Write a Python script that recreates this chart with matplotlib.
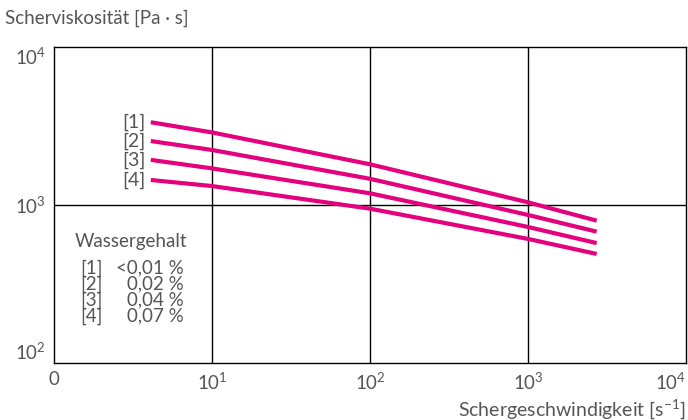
import matplotlib

matplotlib.use("Agg")
import matplotlib.pyplot as plt

# shear rate [1/s] and shear viscosity [Pa s]
shear_rate = [4.1, 10, 100, 1000, 2720]
visc_1 = [3340, 2880, 1810, 1040, 796]
visc_2 = [2540, 2230, 1465, 865, 678]
visc_3 = [1930, 1705, 1186, 726, 574]
visc_4 = [1440, 1318, 948, 610, 490]
curve_labels = ["[1]", "[2]", "[3]", "[4]"]
water_content = ["<0,01 %", "0,02 %", "0,04 %", "0,07 %"]

x_ticks = [1, 10, 100, 1000, 10000]
x_ticklabels = ["0", "$10^1$", "$10^2$", "$10^3$", "$10^4$"]
y_ticks = [100, 1000, 10000]
y_ticklabels = ["$10^2$", "$10^3$", "$10^4$"]

FONT = "Lato"
GREY = "#555555"
MAGENTA = "#e5007d"
FS = 13.5

plt.rcParams["font.family"] = [FONT, "DejaVu Sans"]
plt.rcParams["mathtext.fontset"] = "custom"
plt.rcParams["mathtext.rm"] = FONT
plt.rcParams["mathtext.it"] = FONT

fig = plt.figure(figsize=(6.88, 4.2), dpi=100)
ax = fig.add_axes([54 / 688, 57 / 420, 632 / 688, 316 / 420])
ax.set_xscale("log")
ax.set_yscale("log")
ax.set_xlim(1, 10000)
ax.set_ylim(100, 10000)

for v in (10, 100, 1000):
    ax.axvline(v, color="black", lw=1.0, zorder=1)
ax.axhline(1000, color="black", lw=1.0, zorder=1)

for visc in (visc_1, visc_2, visc_3, visc_4):
    ax.plot(shear_rate, visc, color=MAGENTA, lw=3.0, solid_capstyle="butt",
            solid_joinstyle="round", zorder=3)

# curve numbers at the left end of each line
for lab, visc in zip(curve_labels, (visc_1, visc_2, visc_3, visc_4)):
    ax.annotate(lab, (shear_rate[0], visc[0]), xytext=(-4, 0),
                textcoords="offset points", ha="right", va="center",
                fontsize=14, color=GREY)

# legend block
ax.text(0.033, 0.386, "Wassergehalt", transform=ax.transAxes, fontsize=FS,
        color=GREY, ha="left", va="center")
for k, (lab, wc) in enumerate(zip(curve_labels, water_content)):
    y = 0.30 - k * 0.0506
    ax.text(0.041, y, lab, transform=ax.transAxes, fontsize=FS, color=GREY,
            ha="left", va="center")
    ax.text(0.206, y, wc, transform=ax.transAxes, fontsize=FS, color=GREY,
            ha="right", va="center")

ax.set_xticks(x_ticks)
ax.set_xticklabels(x_ticklabels)
ax.set_yticks(y_ticks)
ax.set_yticklabels(y_ticklabels)
ax.minorticks_off()
ax.tick_params(length=0, labelsize=FS, labelcolor=GREY, pad=6)
ax.get_xticklabels()[-1].set_horizontalalignment("right")
ylabs = ax.get_yticklabels()
ylabs[0].set_verticalalignment("bottom")
ylabs[-1].set_verticalalignment("top")
for s in ax.spines.values():
    s.set_linewidth(1.0)

fig.text(5 / 688, 1 - 18 / 420, "Scherviskosität [Pa · s]", fontsize=FS,
         color=GREY, ha="left", va="center")
fig.text(686 / 688, 1 - 409 / 420, "Schergeschwindigkeit [s$^{-1}$]", fontsize=14,
         color=GREY, ha="right", va="center")

fig.savefig("out.png", dpi=100)
